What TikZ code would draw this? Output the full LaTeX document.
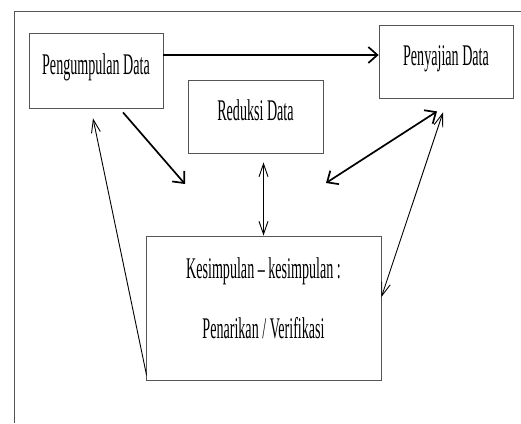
\documentclass[tikz,border=0pt]{standalone}
\usepackage{fontspec}
\newfontfamily\condserif[FakeStretch=0.47]{Liberation Serif}
\usetikzlibrary{arrows.meta,calc}
\definecolor{frameGray}{HTML}{555555}
\tikzset{
  bigbarb/.tip={Straight Barb[length=9pt,width=16pt]},
  slimbarb/.tip={Straight Barb[length=13pt,width=9pt]},
  stage/.style={draw=frameGray, line width=0.8pt, inner sep=0pt,
                font=\condserif\fontsize{30}{36}\selectfont},
  oneline/.style={text height=16pt, text depth=9pt},
  thickflow/.style={line width=1.7pt},
  thinflow/.style={line width=0.9pt}
}

\begin{document}
\begin{tikzpicture}[x=1pt,y=-1pt]
  \useasboundingbox (0,0) rectangle (521,423);
  \draw[frameGray, line width=0.7pt] (14,423) -- (14,11) -- (521,11);
  % the four stages
  \node[stage,oneline,minimum width=134pt,minimum height=75pt] (peng) at (96,70.5) {Pengumpulan Data};
  \node[stage,oneline,minimum width=134pt,minimum height=73pt] (peny) at (446,61.5) {Penyajian Data};
  \node[stage,oneline,minimum width=135pt,minimum height=73pt] (red) at (255.5,116.5) {Reduksi Data};
  \node[stage,align=center,text depth=19pt,minimum width=235pt,minimum height=144pt] (kes) at (263.5,308)
    {Kesimpulan – kesimpulan :\\[24pt]Penarikan / Verifikasi};
  % free ends
  \coordinate (pengend) at (185,184);
  \coordinate (penyend) at (326,183);
  % arrows
  \draw[thickflow,-bigbarb] ([yshift=15.5pt]peng.east) -- ([yshift=15.5pt]peng.east -| peny.west);
  \draw[thickflow,-bigbarb] ([xshift=27pt,yshift=-4pt]peng.south) -- (pengend);
  \draw[thickflow,bigbarb-bigbarb] (penyend) -- ([xshift=-9pt,yshift=-13pt]peny.south);
  \draw[thinflow,slimbarb-slimbarb] ([yshift=-9pt]kes.north |- red.south) -- (kes.north);
  \draw[thinflow,slimbarb-slimbarb] ([xshift=-3pt,yshift=-14pt]peny.south) -- ([yshift=11pt]kes.east);
  \draw[thinflow,-slimbarb] ([xshift=1pt,yshift=5pt]kes.south west) -- ([xshift=-3pt,yshift=-10pt]peng.south);
\end{tikzpicture}
\end{document}
